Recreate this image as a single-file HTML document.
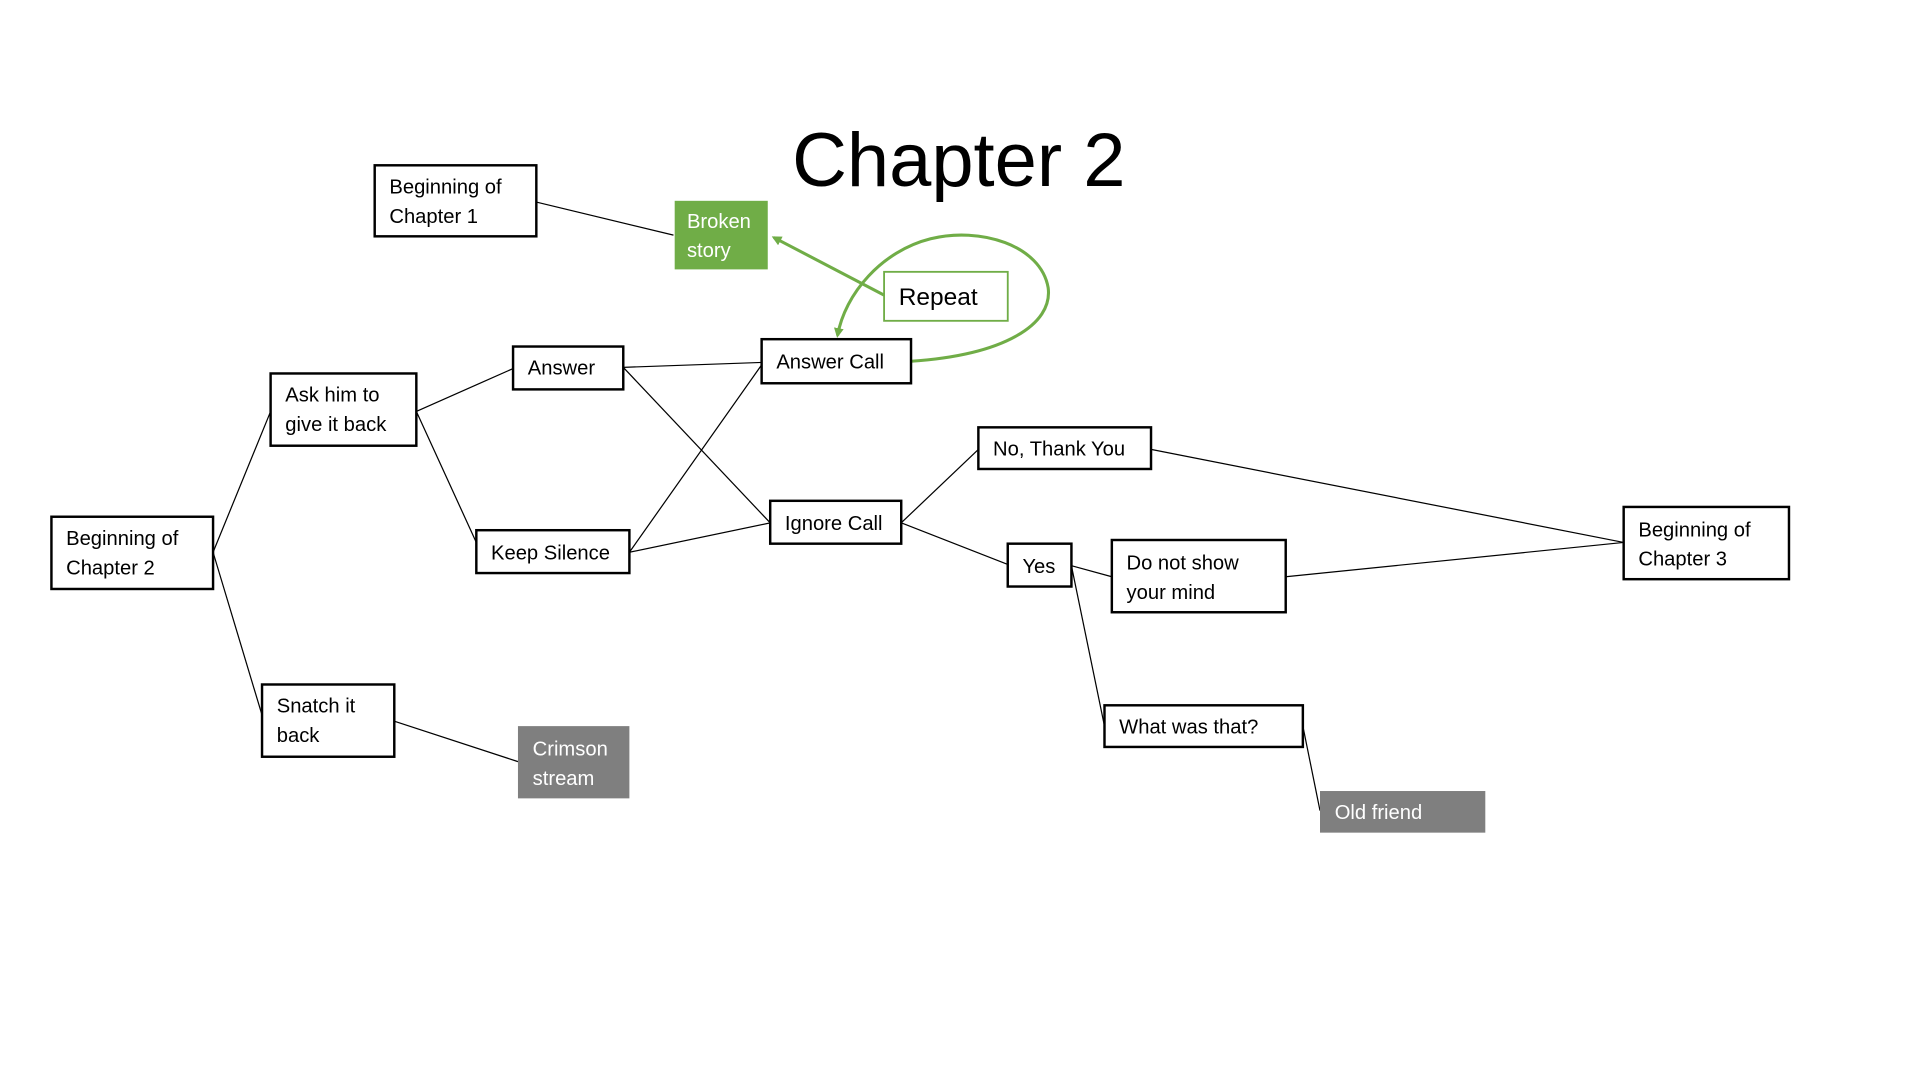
<!DOCTYPE html>
<html><head><meta charset="utf-8"><style>
html,body{margin:0;padding:0;background:#fff;}
svg{display:block}
text{font-family:"Liberation Sans",sans-serif;font-size:16.5px;fill:#000}
</style></head><body>
<svg width="1920" height="1080" viewBox="0 0 1568 882" xmlns="http://www.w3.org/2000/svg">
<defs>
<marker id="ah" markerWidth="8" markerHeight="8" refX="6" refY="4" orient="auto" markerUnits="userSpaceOnUse">
<path d="M0,0 L8,4 L0,8 z" fill="#70AD47"/></marker>
</defs>
<text x="783" y="152" text-anchor="middle" style="font-size:62px;font-weight:300">Chapter 2</text>
<g stroke="#000" stroke-width="1" fill="none">
<line x1="438" y1="165" x2="550" y2="192"/>
<line x1="174" y1="451" x2="221" y2="336"/>
<line x1="174" y1="451" x2="214" y2="584"/>
<line x1="340" y1="336" x2="419" y2="301"/>
<line x1="340" y1="336" x2="389" y2="443"/>
<line x1="509" y1="300" x2="622" y2="296"/>
<line x1="509" y1="300" x2="629" y2="427"/>
<line x1="514" y1="451" x2="622" y2="298"/>
<line x1="514" y1="451" x2="629" y2="427"/>
<line x1="322" y1="589" x2="423" y2="622"/>
<line x1="736" y1="427" x2="799" y2="367"/>
<line x1="736" y1="427" x2="823" y2="461"/>
<line x1="940" y1="367" x2="1326" y2="443"/>
<line x1="875" y1="462" x2="908" y2="471"/>
<line x1="875" y1="462" x2="902" y2="593"/>
<line x1="1050" y1="471" x2="1326" y2="443"/>
<line x1="1064" y1="593" x2="1078" y2="662"/>
</g>
<g stroke="#70AD47" stroke-width="2.5" fill="none">
<line x1="722" y1="241" x2="632" y2="194" marker-end="url(#ah)"/>
<path d="M744,295 C820,290 860,265 856,235 C850,200 800,185 760,195 C720,205 690,240 684,274" marker-end="url(#ah)"/>
</g>
<g stroke="#000" stroke-width="2" fill="#fff">
<rect x="306" y="135" width="132" height="58"/>
<rect x="622" y="277" width="122" height="36"/>
<rect x="419" y="283" width="90" height="35"/>
<rect x="221" y="305" width="119" height="59"/>
<rect x="389" y="433" width="125" height="35"/>
<rect x="629" y="409" width="107" height="35"/>
<rect x="799" y="349" width="141" height="34"/>
<rect x="823" y="444" width="52" height="35"/>
<rect x="908" y="441" width="142" height="59"/>
<rect x="1326" y="414" width="135" height="59"/>
<rect x="42" y="422" width="132" height="59"/>
<rect x="214" y="559" width="108" height="59"/>
<rect x="902" y="576" width="162" height="34"/>
</g>
<rect x="722" y="222" width="101" height="40" fill="#fff" stroke="#70AD47" stroke-width="1.5"/>
<rect x="551" y="164" width="76" height="56" fill="#70AD47"/>
<rect x="423" y="593" width="91" height="59" fill="#7F7F7F"/>
<rect x="1078" y="646" width="135" height="34" fill="#7F7F7F"/>
<text x="318" y="158">Beginning of</text><text x="318" y="182">Chapter 1</text>
<text x="561" y="186" style="fill:#fff">Broken</text><text x="561" y="210" style="fill:#fff">story</text>
<text x="734" y="249" style="font-size:20px">Repeat</text>
<text x="634" y="301">Answer Call</text>
<text x="431" y="306">Answer</text>
<text x="233" y="328">Ask him to</text><text x="233" y="352">give it back</text>
<text x="401" y="457">Keep Silence</text>
<text x="641" y="433">Ignore Call</text>
<text x="811" y="372">No, Thank You</text>
<text x="835" y="468">Yes</text>
<text x="920" y="465">Do not show</text><text x="920" y="489">your mind</text>
<text x="1338" y="438">Beginning of</text><text x="1338" y="462">Chapter 3</text>
<text x="54" y="445">Beginning of</text><text x="54" y="469">Chapter 2</text>
<text x="226" y="582">Snatch it</text><text x="226" y="606">back</text>
<text x="435" y="617" style="fill:#fff">Crimson</text><text x="435" y="641" style="fill:#fff">stream</text>
<text x="914" y="599">What was that?</text>
<text x="1090" y="669" style="fill:#fff">Old friend</text>
</svg>
</body></html>
